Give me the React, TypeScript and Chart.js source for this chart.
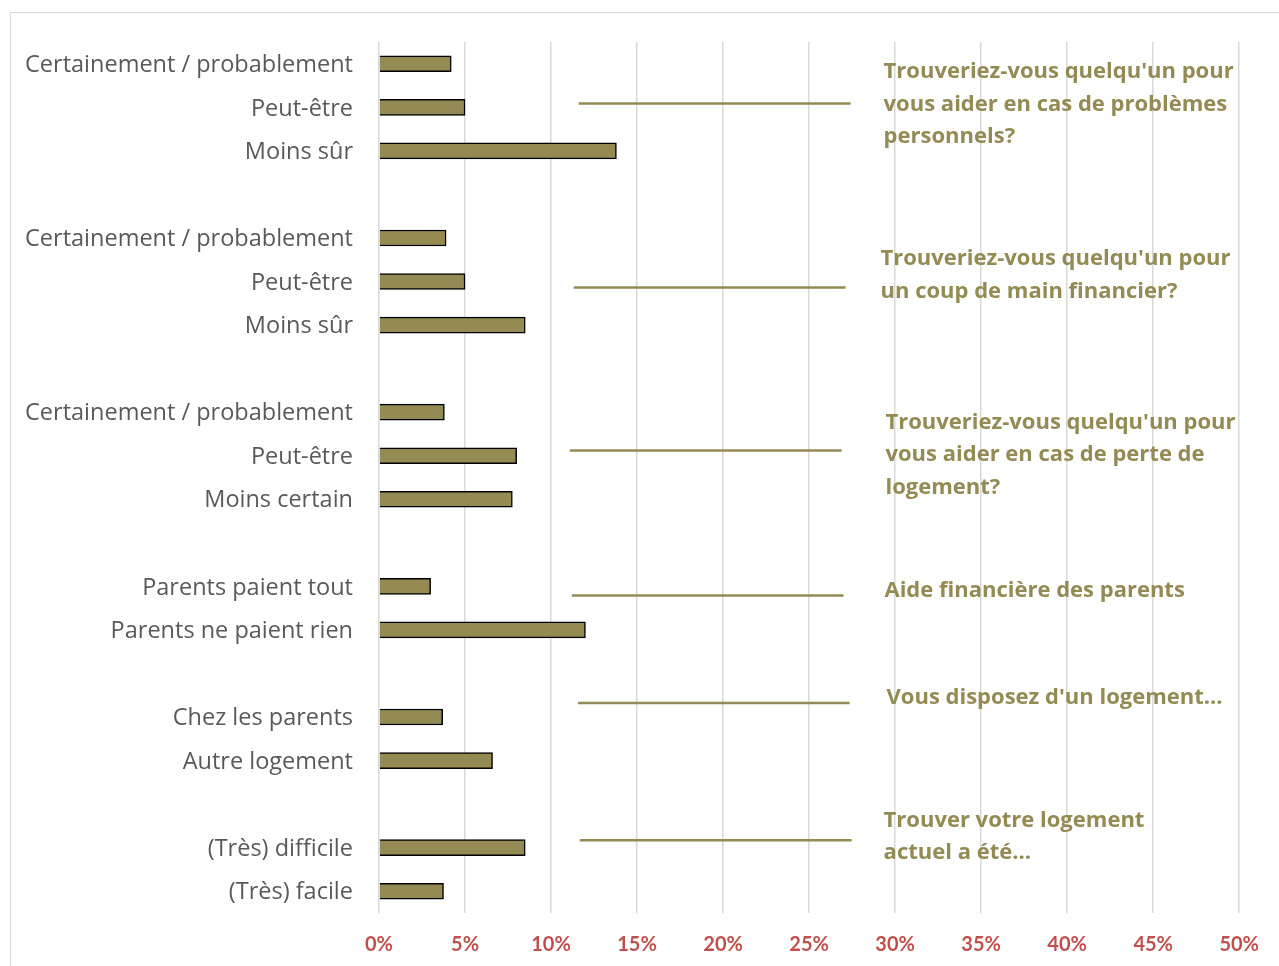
import React, { useEffect, useRef } from "react";
import { Chart, registerables } from "chart.js";

Chart.register(...registerables);

// ---- Data ----
const categories: string[] = [
  "Certainement / probablement",
  "Peut-être",
  "Moins sûr",
  "",
  "Certainement / probablement",
  "Peut-être",
  "Moins sûr",
  "",
  "Certainement / probablement",
  "Peut-être",
  "Moins certain",
  "",
  "Parents paient tout",
  "Parents ne paient rien",
  "",
  "Chez les parents",
  "Autre logement",
  "",
  "(Très) difficile",
  "(Très) facile",
];

const values: (number | null)[] = [
  4.2, 5.0, 13.8, null,
  3.9, 5.0, 8.5, null,
  3.8, 8.0, 7.75, null,
  3.0, 12.0, null,
  3.7, 6.6, null,
  8.5, 3.75,
];

const xTickLabels: string[] = ["0%", "5%", "10%", "15%", "20%", "25%", "30%", "35%", "40%", "45%", "50%"];

const noteTexts: string[][] = [
  ["Trouveriez-vous quelqu'un pour", "vous aider en cas de problèmes", "personnels?"],
  ["Trouveriez-vous quelqu'un pour", "un coup de main financier?"],
  ["Trouveriez-vous quelqu'un pour", "vous aider en cas de perte de", "logement?"],
  ["Aide financière des parents"],
  ["Vous disposez d'un logement..."],
  ["Trouver votre logement", "actuel a été..."],
];

// annotation placement (in axis units: category index / percent)
const noteLineRow = [0.91, 5.14, 8.88, 12.21, 14.68, 17.83];
const noteLineFrom = [11.61, 11.32, 11.09, 11.21, 11.56, 11.67];
const noteLineTo = [27.41, 27.12, 26.89, 27.0, 27.35, 27.47];
const noteTextX = [29.33, 29.15, 29.44, 29.38, 29.5, 29.33];
const noteTextRow = [0.19, 4.48, 8.24, 12.11, 14.55, 17.37];

const OLIVE = "#948A54";

const notesPlugin = {
  id: "notes",
  afterDraw(chart: any) {
    const ctx = chart.ctx;
    const xs = chart.scales.x;
    const ys = chart.scales.y;
    ctx.save();
    ctx.strokeStyle = OLIVE;
    ctx.lineWidth = 2.5;
    for (let i = 0; i < noteTexts.length; i++) {
      const y = ys.getPixelForValue(noteLineRow[i]);
      ctx.beginPath();
      ctx.moveTo(xs.getPixelForValue(noteLineFrom[i]), y);
      ctx.lineTo(xs.getPixelForValue(noteLineTo[i]), y);
      ctx.stroke();
    }
    ctx.fillStyle = OLIVE;
    ctx.font = "bold 22px 'Open Sans'";
    ctx.textAlign = "left";
    ctx.textBaseline = "middle";
    for (let i = 0; i < noteTexts.length; i++) {
      const x = xs.getPixelForValue(noteTextX[i]);
      const y0 = ys.getPixelForValue(noteTextRow[i]);
      noteTexts[i].forEach((t, k) => {
        ctx.fillText(t, x, y0 + k * 32.5);
      });
    }
    ctx.restore();
  },
};

export default function App() {
  const ref = useRef<HTMLCanvasElement | null>(null);

  useEffect(() => {
    if (!ref.current) return;
    const chart = new Chart(ref.current, {
      type: "bar",
      data: {
        labels: categories,
        datasets: [
          {
            data: values as any,
            backgroundColor: OLIVE,
            borderColor: "#000000",
            borderWidth: 1.5,
            borderSkipped: "start",
            barThickness: 16,
          },
        ],
      },
      options: {
        indexAxis: "y",
        responsive: false,
        animation: false,
        devicePixelRatio: 1,
        layout: { padding: { left: 10, top: 42, right: 39, bottom: 0 } },
        plugins: {
          legend: { display: false },
          tooltip: { enabled: false },
        },
        scales: {
          x: {
            min: 0,
            max: 50,
            ticks: {
              stepSize: 5,
              padding: 20,
              color: "#C0504D",
              font: { family: "Lato", size: 20, weight: "bold" },
              callback: (_v: any, i: number) => xTickLabels[i],
            },
            grid: { color: "#d9d9d9", lineWidth: 1.5, drawTicks: false },
            border: { display: false },
            afterFit: (s: any) => {
              s.height = 53;
            },
          },
          y: {
            ticks: {
              padding: 26,
              labelOffset: 1.5,
              color: "#595959",
              autoSkip: false,
              font: { family: "Open Sans", size: 23.5 },
            },
            grid: { display: false, drawTicks: false },
            border: { display: false },
            afterFit: (s: any) => {
              s.width = 369;
            },
          },
        },
      },
      plugins: [notesPlugin],
    } as any);
    return () => chart.destroy();
  }, []);

  return (
    <div
      style={{
        position: "fixed",
        left: 0,
        top: 0,
        width: 1279,
        height: 966,
        overflow: "hidden",
        background: "#ffffff",
      }}
    >
      <div
        style={{
          position: "absolute",
          left: 10,
          top: 12,
          width: 1300,
          height: 1000,
          border: "1px solid #d9d9d9",
          boxSizing: "border-box",
        }}
      />
      <canvas
        ref={ref}
        width={1279}
        height={966}
        style={{ position: "absolute", left: 0, top: 0, width: 1279, height: 966 }}
      />
    </div>
  );
}
